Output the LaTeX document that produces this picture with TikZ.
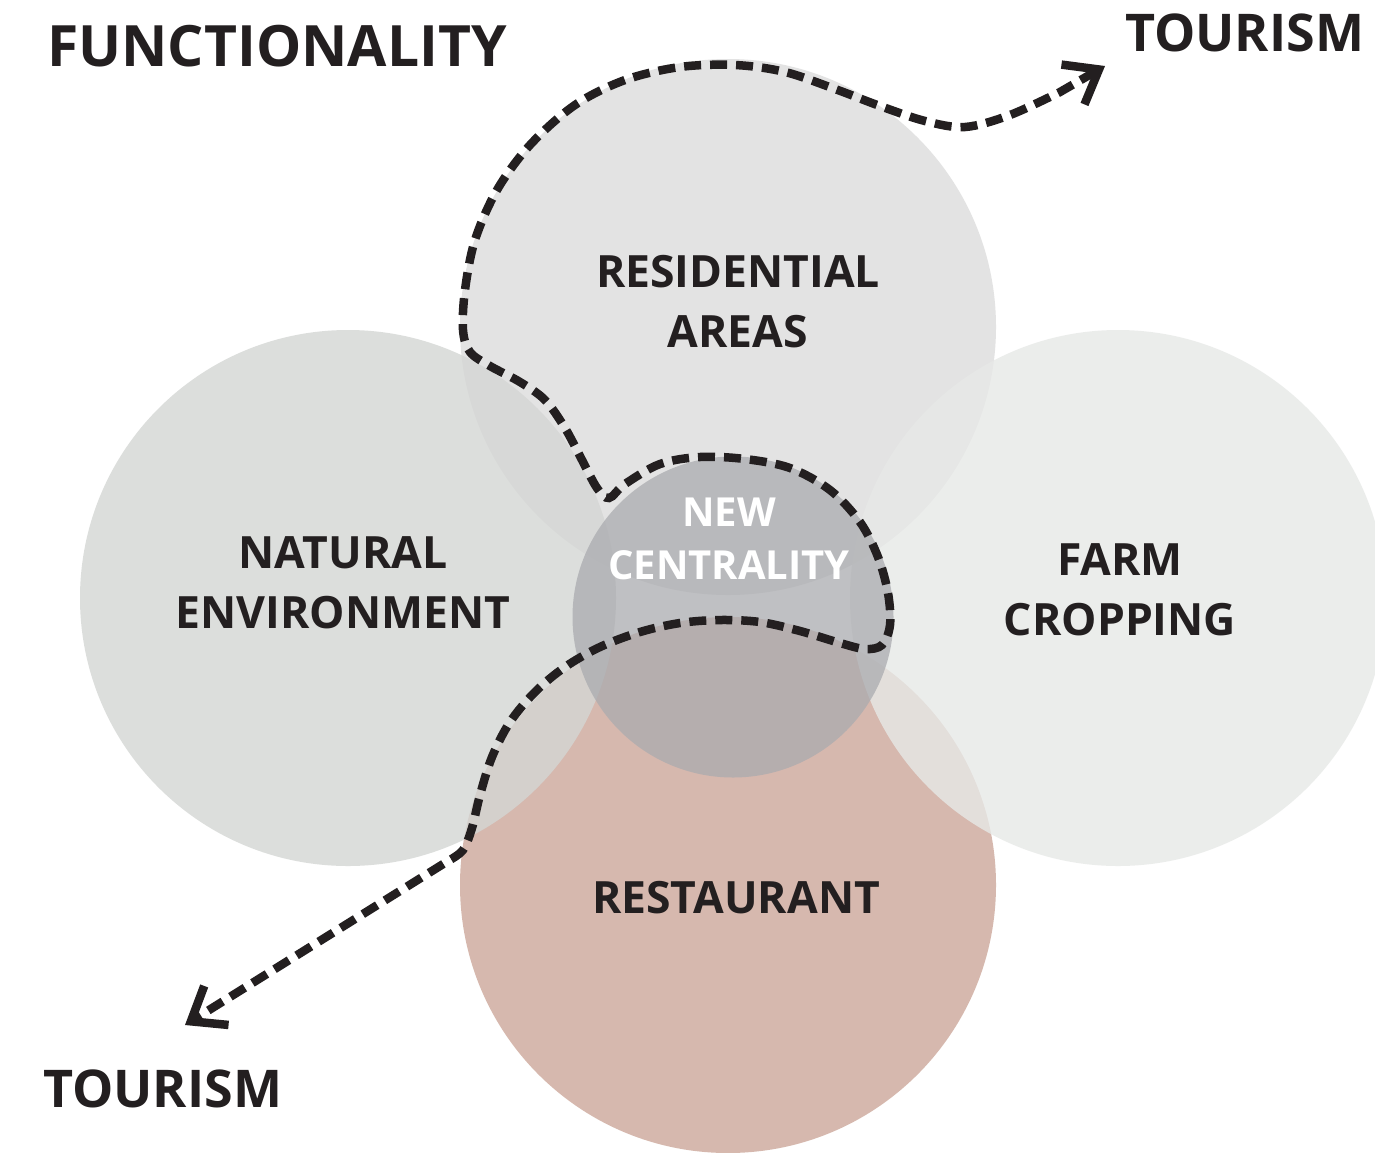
\documentclass[tikz,border=0pt]{standalone}
\usepackage{fontspec}
\setmainfont{Open Sans}
\usetikzlibrary{arrows.meta}
\definecolor{natC}{RGB}{212,214,212}
\definecolor{resC}{RGB}{220,220,220}
\definecolor{farmC}{RGB}{231,233,231}
\definecolor{restC}{RGB}{204,167,154}
\definecolor{cenC}{RGB}{170,171,175}
\definecolor{inkC}{RGB}{35,31,32}
\tikzset{
  bigdisc/.style={circle, draw=none, inner sep=0pt, minimum size=536pt, fill opacity=0.8},
  cendisc/.style={circle, draw=none, inner sep=0pt, minimum size=321pt, fill=cenC, fill opacity=0.75},
  lbl/.style={text=inkC, font=\bfseries\fontsize{44.5}{60}\selectfont, align=center, inner sep=0pt},
  cenlbl/.style={text=white, font=\bfseries\fontsize{40}{53}\selectfont, align=center, inner sep=0pt},
  bigtitle/.style={text=inkC, font=\bfseries\fontsize{57}{70}\selectfont, inner sep=0pt},
  tourlbl/.style={text=inkC, font=\bfseries\fontsize{52}{60}\selectfont, inner sep=0pt},
  tourpath/.style={draw=inkC, line width=8.5pt, dash pattern=on 17pt off 9pt,
    {Straight Barb[length=30pt,width=46pt,line width=8.5pt,sharp]}-{Straight Barb[length=30pt,width=46pt,line width=8.5pt,sharp]}}
}
\begin{document}
\begin{tikzpicture}[x=1pt,y=-1pt]
\useasboundingbox[fill=white] (0,0) rectangle (1375,1152);
\clip (0,0) rectangle (1375,1152);
% circles
\node[bigdisc, fill=resC] (res) at (728,327) {};
\node[bigdisc, fill=restC] (rest) at (728,885) {};
\node[bigdisc, fill=natC] (nat) at (348,598) {};
\node[bigdisc, fill=farmC] (farm) at (1118,598) {};
\node[cendisc] (cen) at (733,617) {};
% dashed tourism path
\coordinate (tourA) at (1105,66);
\coordinate (tourB) at (185,1025);
\draw[tourpath] (tourA) -- plot[smooth, tension=0.55] coordinates {
 (1060,92) (1010,115) (965,127) (925,121) (880,106) (835,89) (785,72) (735,65)
 (680,67) (625,80) (575,105) (530,145) (497,190) (475,240) (465,290) (463,330)
 (470,352) (490,366) (520,382) (545,400) (565,428) (582,460) (597,488) (609,498)
 (625,484) (660,464) (700,457) (745,459) (790,468) (830,490) (860,522) (878,557)
 (888,593) (890,625) (882,645) (865,649) (840,643) (800,631) (760,622) (720,620)
 (680,623) (640,632) (600,647) (565,667) (535,692) (510,722) (492,757) (480,795)
 (472,828) (463,850) (448,861)} -- (tourB);
% labels
\node[lbl] (resT) at (738,302) {RESIDENTIAL\\AREAS};
\node[lbl] (natT) at (343,583) {NATURAL\\ENVIRONMENT};
\node[lbl] (farmT) at (1120,590) {FARM\\CROPPING};
\node[lbl] (restT) at (736,898) {RESTAURANT};
\node[cenlbl] (cenT) at (729,539) {NEW\\CENTRALITY};
\node[bigtitle, anchor=base west] (func) at (47,66) {FUNCTIONALITY};
\node[tourlbl, anchor=base west] (tour1) at (1125,51) {TOURISM};
\node[tourlbl, anchor=base west] (tour2) at (43,1107) {TOURISM};
\end{tikzpicture}
\end{document}
